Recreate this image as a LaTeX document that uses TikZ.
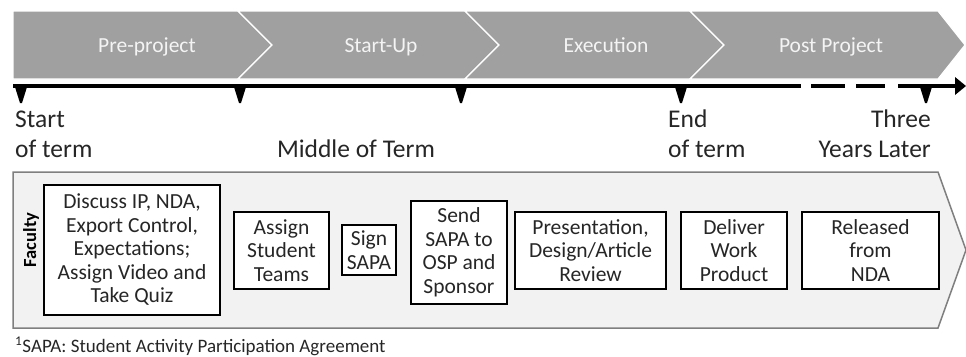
\documentclass[tikz,border=0pt]{standalone}
\usepackage{fontspec}
\setmainfont{Carlito}
\definecolor{chev}{HTML}{A0A0A0}
\definecolor{chevtxt}{HTML}{F4F4F4}
\definecolor{lane}{HTML}{F2F2F2}
\definecolor{laneborder}{HTML}{7F7F7F}
\definecolor{labtxt}{HTML}{262626}
\begin{document}
\begin{tikzpicture}[x=1pt,y=-1pt,
  chevshape/.style={fill=chev,draw=white,line width=1.2pt},
  chevlabel/.style={text=chevtxt,font=\fontsize{21.5}{25}\selectfont,inner sep=0pt,anchor=base},
  tick/.style={fill=black},
  timelab/.style={text=labtxt,font=\fontsize{25.5}{30}\selectfont,inner sep=0pt},
  stepbox/.style={draw=black,line width=1.8pt,fill=white,align=center,inner sep=0pt,
    text=labtxt,font=\fontsize{21.5}{23.5}\selectfont},
  tline/.style={line width=4pt,black}]
\useasboundingbox (0,0) rectangle (966,356);
% phase chevrons
\draw[chevshape] (13,11)--(238,11)--(272,45)--(238,79)--(13,79)--cycle;
\draw[chevshape] (238,11)--(465,11)--(499,45)--(465,79)--(238,79)--(272,45)--cycle;
\draw[chevshape] (465,11)--(690,11)--(724,45)--(690,79)--(465,79)--(499,45)--cycle;
\draw[chevshape] (690,11)--(938,11)--(965,45)--(938,79)--(690,79)--(724,45)--cycle;
\node[chevlabel] (p1) at (147,52) {Pre-project};
\node[chevlabel] (p2) at (381,52) {Start-Up};
\node[chevlabel] (p3) at (606,52) {Execution};
\node[chevlabel] (p4) at (831,52) {Post Project};
% timeline
\coordinate (t0) at (13,86);
\coordinate (t1) at (801,86);
\coordinate (d1a) at (811,86); \coordinate (d1b) at (845,86);
\coordinate (d2a) at (856,86); \coordinate (d2b) at (885,86);
\coordinate (d3a) at (898,86); \coordinate (d3b) at (957,86);
\coordinate (tend) at (966,86);
\draw[tline] (t0)--(t1);
\draw[tline] (d1a)--(d1b);
\draw[tline] (d2a)--(d2b);
\draw[tline] (d3a)--(d3b);
\fill (955,77)--(tend)--(955,95)--cycle;
% ticks
\foreach \x in {21,240,461,681,926}{
  \fill[tick] (\x-6,87)--(\x+6,87)--(\x+1,103)--(\x-1,103)--cycle;
}
% time labels
\node[timelab,anchor=base west] (l1a) at (15,127) {Start};
\node[timelab,anchor=base west] (l1b) at (15,157) {of term};
\node[timelab,anchor=base] (l2) at (356,157) {Middle of Term};
\node[timelab,anchor=base west] (l3a) at (668,127) {End};
\node[timelab,anchor=base west] (l3b) at (668,157) {of term};
\node[timelab,anchor=base east] (l4a) at (931,127) {Three};
\node[timelab,anchor=base east] (l4b) at (931,157) {Years Later};
% lane
\draw[fill=lane,draw=laneborder,line width=1.5pt] (13,172)--(938,172)--(966,250)--(938,328)--(13,328)--cycle;
\node[rotate=90,font=\fontsize{18.5}{20}\selectfont\bfseries,text=black,inner sep=0pt] (fac) at (31,240) {Faculty};
% steps
\node[stepbox,minimum width=176pt,minimum height=130pt] (s1) at (132,250) {Discuss IP, NDA,\\Export Control,\\Expectations;\\Assign Video and\\Take Quiz};
\node[stepbox,minimum width=95pt,minimum height=77pt] (s2) at (281.5,250.5) {Assign\\Student\\Teams};
\node[stepbox,minimum width=54pt,minimum height=50pt] (s3) at (369,250) {Sign\\SAPA};
\node[stepbox,minimum width=96pt,minimum height=103pt] (s4) at (459,252.5) {Send\\SAPA to\\OSP and\\Sponsor};
\node[stepbox,minimum width=151pt,minimum height=77pt] (s5) at (590.5,250.5) {Presentation,\\Design/Article\\Review};
\node[stepbox,minimum width=106pt,minimum height=77pt] (s6) at (734,250.5) {Deliver\\Work\\Product};
\node[stepbox,minimum width=137pt,minimum height=77pt] (s7) at (870.5,250.5) {Released\\from\\NDA};
% footnote
\node[anchor=base west,inner sep=0pt,text=labtxt,font=\fontsize{19}{22}\selectfont] (fn) at (15,352) {\textsuperscript{1}SAPA: Student Activity Participation Agreement};
\end{tikzpicture}
\end{document}
